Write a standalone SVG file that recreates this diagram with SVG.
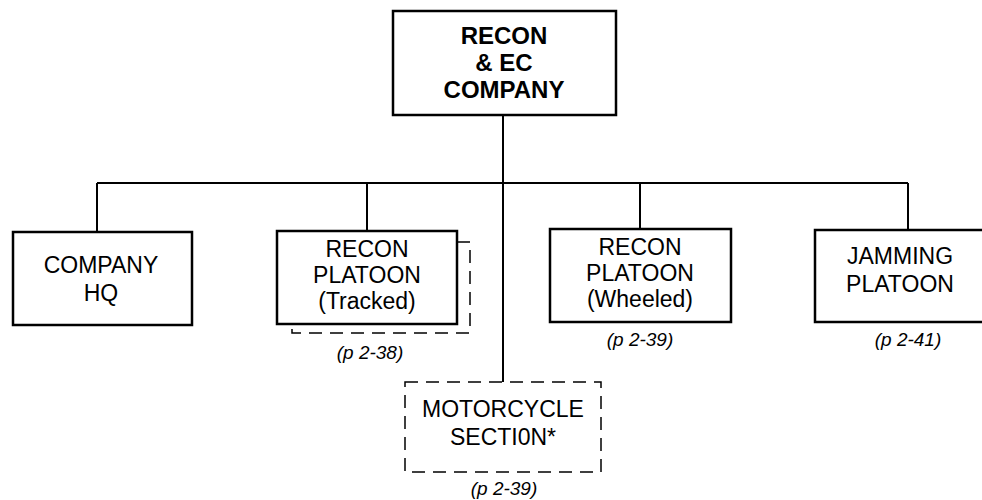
<svg xmlns="http://www.w3.org/2000/svg" width="982" height="500" viewBox="0 0 982 500">
<style>
.box{fill:#fff;stroke:#000;stroke-width:2.5}
.dash{fill:none;stroke:#000;stroke-width:1.5;stroke-dasharray:13 8}
.conn{fill:none;stroke:#000;stroke-width:2}
.t{font-family:"Liberation Sans",Arial,sans-serif;font-size:23px;text-anchor:middle;fill:#000}
.tb{font-family:"Liberation Sans",Arial,sans-serif;font-size:24px;font-weight:bold;text-anchor:middle;fill:#000}
.pg{font-family:"Liberation Sans",Arial,sans-serif;font-size:19px;font-style:italic;text-anchor:middle;fill:#000}
</style>
<rect width="982" height="500" fill="#fff"/>
<g id="connectors">
<path class="conn" d="M503,115 V382"/>
<path class="conn" d="M97,183 H908"/>
<path class="conn" d="M97,183 V232"/>
<path class="conn" d="M367,183 V231"/>
<path class="conn" d="M640,183 V229"/>
<path class="conn" d="M908,183 V230"/>
</g>
<g id="recon-ec-company">
<rect class="box" x="393" y="11" width="223" height="104"/>
<text class="tb" x="504" y="44">RECON</text>
<text class="tb" x="504" y="71">&amp; EC</text>
<text class="tb" x="504" y="98">COMPANY</text>
</g>
<g id="company-hq">
<rect class="box" x="13" y="232" width="179" height="93"/>
<text class="t" x="101" y="273">COMPANY</text>
<text class="t" x="101" y="301">HQ</text>
</g>
<g id="recon-platoon-tracked">
<path class="dash" d="M457,242 H470 V333 H292 V325"/>
<rect class="box" x="277" y="231" width="180" height="93"/>
<text class="t" x="367" y="257">RECON</text>
<text class="t" x="367" y="283">PLATOON</text>
<text class="t" x="367" y="309">(Tracked)</text>
<text class="pg" x="370" y="359">(p 2-38)</text>
</g>
<g id="recon-platoon-wheeled">
<rect class="box" x="550" y="229" width="181" height="93"/>
<text class="t" x="640" y="255">RECON</text>
<text class="t" x="640" y="281">PLATOON</text>
<text class="t" x="640" y="307">(Wheeled)</text>
<text class="pg" x="640" y="346">(p 2-39)</text>
</g>
<g id="jamming-platoon">
<rect class="box" x="815" y="230" width="180" height="92"/>
<text class="t" x="900" y="264">JAMMING</text>
<text class="t" x="900" y="292">PLATOON</text>
<text class="pg" x="908" y="346">(p 2-41)</text>
</g>
<g id="motorcycle-section">
<rect class="dash" x="405" y="382" width="196" height="90"/>
<text class="t" x="503" y="417">MOTORCYCLE</text>
<text class="t" x="503" y="445">SECTI0N*</text>
<text class="pg" x="504" y="495">(p 2-39)</text>
</g>
</svg>
